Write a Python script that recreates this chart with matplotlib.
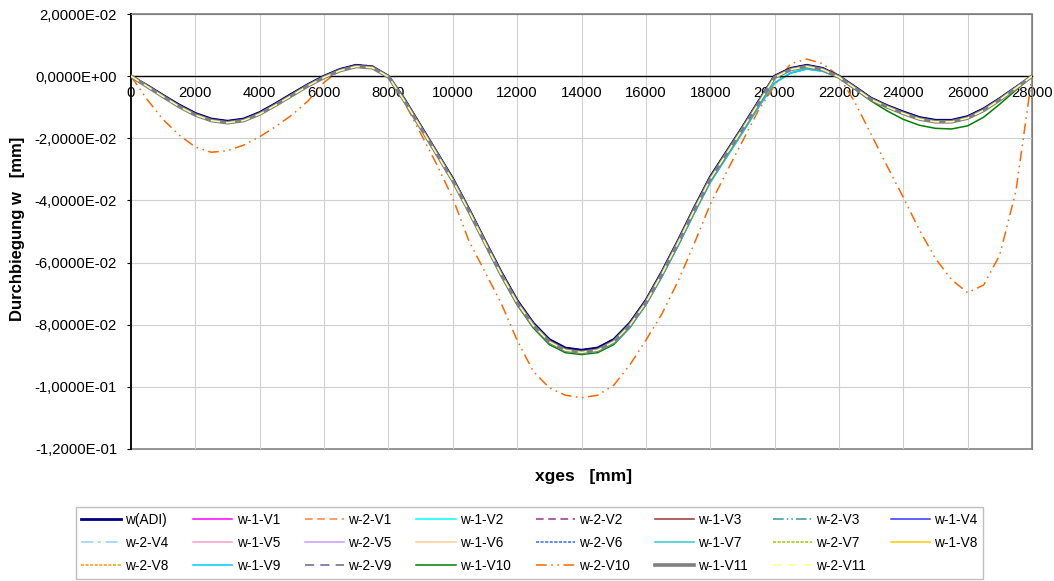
import numpy as np
import matplotlib
matplotlib.use('Agg')
import matplotlib.pyplot as plt
from matplotlib.patches import Rectangle

plt.rcParams['font.family'] = ['Liberation Sans', 'DejaVu Sans']

# Stützstellen in mm (alle 500 mm)
xges = list(range(0, 28001, 500))

# Durchbiegung w in mm
w_adi = [0.0, -0.0030, -0.0062, -0.0093, -0.0120, -0.0138, -0.0145, -0.0138, -0.0117,
         -0.0088, -0.0057, -0.0027, 0.0000, 0.0022, 0.0035, 0.0030, 0.0000,
         -0.0075, -0.0160, -0.0245, -0.0330, -0.0428, -0.0530, -0.0630, -0.0722, -0.0795,
         -0.0848, -0.0875, -0.0882, -0.0875, -0.0848, -0.0795, -0.0722, -0.0630, -0.0530,
         -0.0425, -0.0325, -0.0245, -0.0165, -0.0082, 0.0000,
         0.0025, 0.0035, 0.0025, 0.0000, -0.0035, -0.0071, -0.0095, -0.0115, -0.0133,
         -0.0142, -0.0142, -0.0130, -0.0105, -0.0072, -0.0036, 0.0000]

w_v11 = [0.0, -0.0033, -0.0066, -0.0098, -0.0125, -0.0143, -0.0150, -0.0143, -0.0122,
         -0.0093, -0.0062, -0.0031, -0.0004, 0.0018, 0.0031, 0.0027, -0.0002,
         -0.0080, -0.0165, -0.0250, -0.0336, -0.0434, -0.0536, -0.0637, -0.0729, -0.0802,
         -0.0855, -0.0882, -0.0889, -0.0882, -0.0855, -0.0802, -0.0729, -0.0637, -0.0537,
         -0.0432, -0.0332, -0.0251, -0.0171, -0.0088, -0.0004,
         0.0021, 0.0031, 0.0021, -0.0003, -0.0039, -0.0075, -0.0099, -0.0120, -0.0138,
         -0.0147, -0.0147, -0.0135, -0.0110, -0.0076, -0.0039, 0.0000]

w_cyan = [0.0, -0.0034, -0.0067, -0.0099, -0.0126, -0.0144, -0.0151, -0.0144, -0.0123,
          -0.0094, -0.0063, -0.0032, -0.0005, 0.0017, 0.0030, 0.0026, -0.0003,
          -0.0081, -0.0166, -0.0252, -0.0338, -0.0436, -0.0538, -0.0639, -0.0731, -0.0804,
          -0.0857, -0.0884, -0.0891, -0.0885, -0.0859, -0.0807, -0.0735, -0.0645, -0.0546,
          -0.0442, -0.0342, -0.0262, -0.0182, -0.0100, -0.0022,
          0.0010, 0.0023, 0.0016, -0.0005, -0.0040, -0.0076, -0.0100, -0.0121, -0.0139,
          -0.0148, -0.0148, -0.0136, -0.0111, -0.0077, -0.0040, 0.0000]

w_1_v10 = [0.0, -0.0032, -0.0064, -0.0096, -0.0123, -0.0141, -0.0148, -0.0141, -0.0120,
           -0.0091, -0.0060, -0.0029, -0.0002, 0.0020, 0.0033, 0.0028, -0.0001,
           -0.0080, -0.0166, -0.0252, -0.0339, -0.0438, -0.0541, -0.0643, -0.0736, -0.0810,
           -0.0864, -0.0890, -0.0896, -0.0890, -0.0864, -0.0810, -0.0736, -0.0643, -0.0541,
           -0.0436, -0.0334, -0.0252, -0.0171, -0.0087, -0.0002,
           0.0022, 0.0032, 0.0021, -0.0005, -0.0042, -0.0080, -0.0112, -0.0139, -0.0158,
           -0.0168, -0.0170, -0.0160, -0.0132, -0.0090, -0.0045, 0.0000]

w_2_v10 = [0.0, -0.0075, -0.0140, -0.0190, -0.0228, -0.0245, -0.0240, -0.0222, -0.0195,
           -0.0162, -0.0125, -0.0080, -0.0020, 0.0020, 0.0038, 0.0033, 0.0000,
           -0.0085, -0.0184, -0.0284, -0.0393, -0.0530, -0.0630, -0.0730, -0.0850, -0.0950,
           -0.1003, -0.1027, -0.1035, -0.1027, -0.0995, -0.0930, -0.0850, -0.0765, -0.0660,
           -0.0540, -0.0413, -0.0310, -0.0210, -0.0110, -0.0030,
           0.0040, 0.0055, 0.0040, 0.0000, -0.0085, -0.0187, -0.0290, -0.0390, -0.0495,
           -0.0587, -0.0655, -0.0697, -0.0672, -0.0575, -0.0370, 0.0000]

namen = ['w(ADI)', 'w-1-V1', 'w-2-V1', 'w-1-V2', 'w-2-V2', 'w-1-V3', 'w-2-V3', 'w-1-V4',
         'w-2-V4', 'w-1-V5', 'w-2-V5', 'w-1-V6', 'w-2-V6', 'w-1-V7', 'w-2-V7', 'w-1-V8',
         'w-2-V8', 'w-1-V9', 'w-2-V9', 'w-1-V10', 'w-2-V10', 'w-1-V11', 'w-2-V11']
daten = [w_adi, w_adi, w_adi, w_cyan, w_adi, w_adi, w_adi, w_adi,
         w_adi, w_adi, w_adi, w_adi, w_adi, w_cyan, w_adi, w_adi,
         w_adi, w_cyan, w_adi, w_1_v10, w_2_v10, w_v11, w_v11]
farben = ['#000080', '#FF00FF', '#FF8040', '#00FFFF', '#993399', '#993333', '#339999', '#3333FF',
          '#99CCFF', '#FF99CC', '#CC99FF', '#FFCC99', '#3366FF', '#33CCCC', '#99CC00', '#FFCC00',
          '#FF9900', '#00CCFF', '#666699', '#008000', '#FF6600', '#808080', '#FFFF99']
stile = ['-', '-', (0, (5, 3)), '-', (0, (5, 3)), '-', (0, (7, 2, 1, 2, 1, 2)), '-',
         (0, (8, 3, 2, 3)), '-', '-', '-', (0, (2, 1)), '-', (0, (2, 1)), '-',
         (0, (2, 1)), '-', (0, (6, 4)), '-', (0, (7, 3, 1, 3, 1, 3)), '-', (0, (6, 4))]
breiten = [2.0, 1.1, 1.1, 1.1, 1.1, 1.1, 1.1, 1.1,
           1.1, 1.1, 1.1, 1.1, 1.1, 1.1, 1.1, 1.1,
           1.1, 1.1, 1.1, 1.1, 1.1, 2.6, 1.1]
# Zeichenreihenfolge: w(ADI) über den verdeckten Varianten, V11 ganz oben
ebenen = [3.0, 2, 2, 2.2, 2, 2, 2, 2,
          2, 2, 2, 2, 2, 2.2, 2, 2,
          2, 2.2, 2, 2.1, 2.5, 3.2, 3.3]

y_ticks = [-0.12, -0.10, -0.08, -0.06, -0.04, -0.02, 0.0, 0.02]
y_labels = ['-1,2000E-01', '-1,0000E-01', '-8,0000E-02', '-6,0000E-02',
            '-4,0000E-02', '-2,0000E-02', '0,0000E+00', '2,0000E-02']
x_ticks = list(range(0, 28001, 2000))

fig = plt.figure(figsize=(10.54, 5.81), dpi=100)
ax = fig.add_axes([131/1054, 1-449/581, (1032-131)/1054, (449-14)/581])

linien = []
for n, d, f, s, b, z in zip(namen, daten, farben, stile, breiten, ebenen):
    l, = ax.plot(xges, d, color=f, linestyle=s, linewidth=b, label=n, zorder=z)
    linien.append(l)

ax.set_xlim(0, 28000)
ax.set_ylim(-0.12, 0.02)
ax.set_xticks(x_ticks)
ax.set_yticks(y_ticks)
ax.set_yticklabels(y_labels)
ax.grid(True, color='#D0D0D0', linewidth=0.8)
ax.set_axisbelow(True)

ax.spines['bottom'].set_position(('data', 0))
ax.spines['bottom'].set_color('black')
ax.spines['bottom'].set_linewidth(1.0)
ax.spines['left'].set_linewidth(1.3)
for s in ['top', 'right']:
    ax.spines[s].set_color('#808080')
ax.add_patch(Rectangle((0, 0), 1, 1, transform=ax.transAxes, fill=False,
                       edgecolor='#808080', linewidth=1.2, clip_on=False, zorder=0.5))
ax.tick_params(axis='x', length=0, pad=7, labelsize=10.7)
ax.tick_params(axis='y', length=3, pad=7, labelsize=10.7, direction='out')

fig.text(18/1054, 1-229/581, 'Durchbiegung w   [mm]', rotation=90, fontsize=12,
         fontweight='bold', ha='center', va='center')
fig.text(584/1054, 1-477/581, 'xges   [mm]', fontsize=12.5, fontweight='bold',
         ha='center', va='center')

reihenfolge = [c + 8*r for c in range(8) for r in range(3) if c + 8*r < len(namen)]
leg = fig.legend([linien[i] for i in reihenfolge], [namen[i] for i in reihenfolge],
                 loc='center', ncol=8, mode='expand',
                 bbox_to_anchor=(69/1054, 4/581, 921/1054, 68/581),
                 fontsize=9.8, frameon=True, fancybox=False, handlelength=2.9,
                 handletextpad=0.3, labelspacing=0.68, borderpad=0.4, columnspacing=0.8)
leg.get_frame().set_edgecolor('#B0B0B0')
leg.get_frame().set_linewidth(1.0)

fig.savefig('out.png', dpi=100)
